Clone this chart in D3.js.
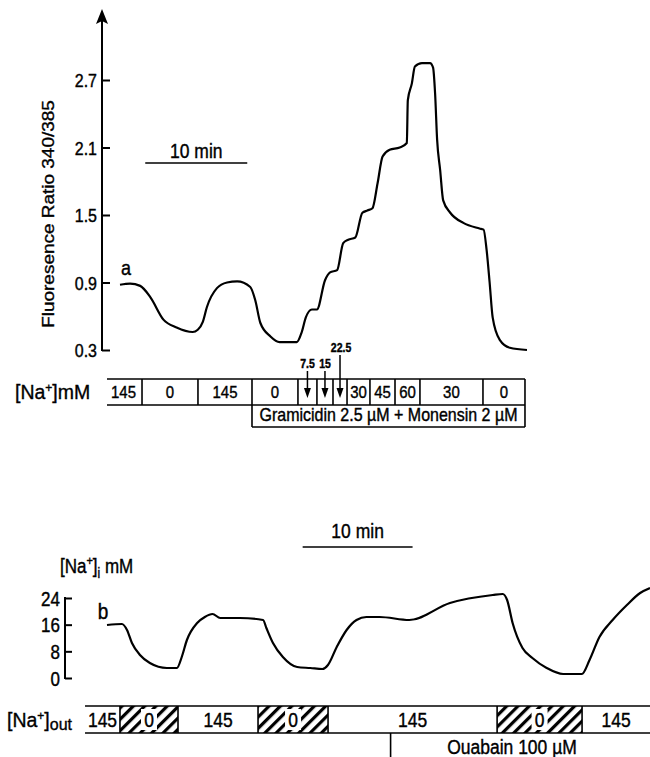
<!DOCTYPE html>
<html><head><meta charset="utf-8">
<script src="https://cdn.jsdelivr.net/npm/d3@7"></script>
<style>html,body{margin:0;padding:0;background:#fff}svg{display:block}text{font-family:"Liberation Sans",Arial,Helvetica,sans-serif;fill:#000;stroke:#000;stroke-width:0.35px}</style>
</head><body><div id="chart"></div>
<script>
// ---------- DATA ----------
// Panel a: time (min) vs fluorescence ratio 340/385
const topTime  = [0,1.0,2.0,3.0,4.3,5.6,7.2,7.7,8.2,8.6,9.6,10.6,11.6,12.9,13.4,13.9,14.9,15.8,17.5,18.0,18.4,19.0,19.5,20.3,20.8,21.5,22.1,22.6,23.3,24.0,24.5,25.0,25.5,26.0,26.7,27.7,28.4,28.5,28.9,29.2,29.9,30.7,31.0,31.2,31.4,31.7,32.0,32.7,34.0,35.6,36.0,36.3,36.6,36.9,37.6,38.6,40.3];
const topRatio = [0.88,0.89,0.87,0.77,0.57,0.50,0.46,0.48,0.55,0.68,0.85,0.90,0.91,0.86,0.74,0.54,0.42,0.37,0.37,0.46,0.59,0.66,0.66,0.92,0.99,1.01,1.25,1.28,1.30,1.52,1.54,1.56,1.78,2.02,2.08,2.10,2.14,2.52,2.67,2.82,2.85,2.85,2.81,2.58,2.17,1.90,1.63,1.52,1.43,1.38,1.37,1.19,0.90,0.59,0.39,0.32,0.30];
const topYTicks = [0.3,0.9,1.5,2.1,2.7];
const topBoxEdges  = [-1.29,2.18,7.72,13.07,17.62,19.50,21.09,22.48,24.75,27.23,29.70,35.94,40.10];
const topBoxLabels = ["145","0","145","0","","","","30","45","60","30","0"];
const stepConc = ["7.5","15","22.5"];          // arrows in boxes 4,5,6
const drugText = "Gramicidin 2.5 \u00b5M + Monensin 2 \u00b5M";
const drugStart = 13.07, drugEnd = 40.10;

// Panel b: time (min) vs [Na+]i (mM)
const botTime = [0,1.36,1.82,2.27,3.0,3.9,5.45,6.36,6.8,7.27,8.2,8.9,9.6,10.3,12.1,14.2,14.5,15.1,16.0,17.3,18.5,19.6,20.1,20.9,21.8,22.7,23.6,24.8,27.5,31.2,35.1,36.0,36.4,36.9,37.8,38.7,40.0,41.5,43.2,43.9,44.8,46.0,47.3,48.5,49.4];
const botNa   = [15.9,16.2,14.4,10.5,6.9,4.5,3.0,3.0,6.3,11.4,16.5,18.3,19.2,18.0,18.0,17.4,15.0,10.5,6.3,3.3,3.0,2.7,3.9,9.3,14.4,17.4,18.3,18.3,17.4,22.5,24.9,25.2,23.4,16.5,9.0,6.0,3.0,1.2,1.2,5.4,12.3,17.4,21.9,25.5,27.0];
const botYTicks = [0,8,16,24];
const botBoxEdges  = [-2.0,1.18,6.46,13.74,20.11,35.49,43.22,49.4];
const botBoxLabels = ["145","0","145","0","145","0","145"];
const botHatched   = [false,true,false,true,false,true,false];
const ouabainStart = 25.8, ouabainText = "Ouabain 100 \u00b5M";

// ---------- LAYOUT ----------
const W = 650, H = 757, SY = 1.15;
const svg = d3.select("#chart").append("svg").attr("width", W).attr("height", H);

function txt(sel, x, y, s, size, anchor, weight, sy) {
  return sel.append("text")
    .attr("transform", `translate(${x},${y}) scale(1,${sy || SY})`)
    .attr("text-anchor", anchor || "middle")
    .attr("font-size", size)
    .attr("font-weight", weight || "normal")
    .text(s);
}

// hatch pattern
const defs = svg.append("defs");
defs.append("pattern").attr("id","hatch").attr("patternUnits","userSpaceOnUse")
  .attr("width",8).attr("height",8).attr("patternTransform","rotate(45)")
  .append("rect").attr("x",0).attr("y",0).attr("width",3.2).attr("height",8).attr("fill","#000");

// ===== Panel a =====
const xA = d3.scaleLinear().domain([0, 40.3]).range([120, 527]);
const yA = d3.scaleLinear().domain([0.3, 2.7]).range([350, 80]);
const gA = svg.append("g");

const axA = gA.append("g").attr("transform", "translate(102,0)")
  .call(d3.axisLeft(yA).tickValues(topYTicks).tickFormat(d3.format(".1f")).tickSizeInner(-8).tickSizeOuter(0).tickPadding(5));
axA.select(".domain").remove();
axA.selectAll(".tick line").attr("stroke","#000").attr("stroke-width",2);
axA.selectAll(".tick text").attr("font-size",16).attr("font-family",'"Liberation Sans",Arial,sans-serif')
  .attr("transform",`scale(1,${SY})`).attr("dy","0.36em");
gA.append("line").attr("x1",102).attr("x2",102).attr("y1",yA(0.3)+1).attr("y2",20).attr("stroke","#000").attr("stroke-width",2);
gA.append("path").attr("d","M102,9 L96,24 L102,21 L108,24 Z").attr("fill","#000");

gA.append("text")
  .attr("transform",`translate(54,${214}) scale(1,${SY}) rotate(-90)`)
  .attr("text-anchor","middle").attr("font-size",16.5).text("Fluoresence Ratio 340/385");

txt(gA, 126, 275, "a", 18);

// 10 min bar
gA.append("line").attr("x1",xA(2.5)).attr("x2",xA(12.6)).attr("y1",163).attr("y2",163).attr("stroke","#000").attr("stroke-width",1.6);
txt(gA, (xA(2.5)+xA(12.6))/2, 158, "10 min", 17.5);

gA.append("path").datum(topTime.map((t,i)=>[t, topRatio[i]]))
  .attr("fill","none").attr("stroke","#000").attr("stroke-width",2.2).attr("stroke-linejoin","round")
  .attr("d", d3.line().x(d=>xA(d[0])).y(d=>yA(d[1])).curve(d3.curveMonotoneX));

// Box row a
const rowTop = 379, rowBot = 405, row2Bot = 427;
const bx = gA.append("g").attr("stroke","#000").attr("stroke-width",1.6);
const x0 = xA(topBoxEdges[0]), xN = xA(topBoxEdges[topBoxEdges.length-1]);
bx.append("line").attr("x1",x0).attr("x2",xN).attr("y1",rowTop).attr("y2",rowTop);
bx.append("line").attr("x1",x0).attr("x2",xN).attr("y1",rowBot).attr("y2",rowBot);
topBoxEdges.slice(1).forEach(e => bx.append("line").attr("x1",xA(e)).attr("x2",xA(e)).attr("y1",rowTop).attr("y2",rowBot));
bx.append("line").attr("x1",xA(drugStart)).attr("x2",xA(drugEnd)).attr("y1",row2Bot).attr("y2",row2Bot);
bx.append("line").attr("x1",xA(drugStart)).attr("x2",xA(drugStart)).attr("y1",rowBot).attr("y2",row2Bot);
bx.append("line").attr("x1",xA(drugEnd)).attr("x2",xA(drugEnd)).attr("y1",rowBot).attr("y2",row2Bot);
topBoxLabels.forEach((l,i) => {
  if (l) txt(gA, (xA(topBoxEdges[i])+xA(topBoxEdges[i+1]))/2 + (i===0?-1:0), 398, l, 15);
});
stepConc.forEach((c,k) => {
  const i = 4 + k;
  const cx = (xA(topBoxEdges[i])+xA(topBoxEdges[i+1]))/2;
  const top = k===2 ? 355 : 371;
  gA.append("line").attr("x1",cx).attr("x2",cx).attr("y1",top).attr("y2",392).attr("stroke","#000").attr("stroke-width",1.5);
  gA.append("path").attr("d",`M${cx-3.5},388 L${cx+3.5},388 L${cx},398 Z`).attr("fill","#000");
  txt(gA, cx + (k===2?1:0), k===2 ? 352 : 368, c, 10.5, "middle", "bold");
});
txt(gA, (xA(drugStart)+xA(drugEnd))/2, 421, drugText, 16);

const naA = gA.append("text").attr("transform",`translate(15,399) scale(1,1.05)`).attr("font-size",19.5);
naA.append("tspan").text("[Na");
naA.append("tspan").attr("font-size",12).attr("dy",-7).text("+");
naA.append("tspan").attr("dy",7).text("]mM");

// ===== Panel b =====
const xB = d3.scaleLinear().domain([0, 49.4]).range([107, 650]);
const yB = d3.scaleLinear().domain([0, 24]).range([678, 598]);
const gB = svg.append("g");
const axB = gB.append("g").attr("transform","translate(65,0)")
  .call(d3.axisLeft(yB).tickValues(botYTicks).tickSizeInner(-7).tickSizeOuter(0).tickPadding(5));
axB.select(".domain").remove();
axB.selectAll(".tick line").attr("stroke","#000").attr("stroke-width",2);
axB.selectAll(".tick text").attr("font-size",17).attr("font-family",'"Liberation Sans",Arial,sans-serif')
  .attr("transform",`scale(1,${SY})`).attr("dy","0.36em");
gB.append("line").attr("x1",65).attr("x2",65).attr("y1",yB(0)+1).attr("y2",yB(24)-1).attr("stroke","#000").attr("stroke-width",2);

txt(gB, 103, 619, "b", 19);

const naB = gB.append("text").attr("transform",`translate(60,573) scale(1,${SY})`).attr("font-size",17);
naB.append("tspan").text("[Na");
naB.append("tspan").attr("font-size",11).attr("dy",-7).text("+");
naB.append("tspan").attr("dy",7).text("]");
naB.append("tspan").attr("font-size",12).attr("dy",4).text("i");
naB.append("tspan").attr("dy",-4).text(" mM");

gB.append("line").attr("x1",xB(17.8)).attr("x2",xB(27.8)).attr("y1",547).attr("y2",547).attr("stroke","#000").attr("stroke-width",1.6);
txt(gB, (xB(17.8)+xB(27.8))/2, 538, "10 min", 17.5);

gB.append("path").datum(botTime.map((t,i)=>[t, botNa[i]]))
  .attr("fill","none").attr("stroke","#000").attr("stroke-width",2.2).attr("stroke-linejoin","round")
  .attr("d", d3.line().x(d=>xB(d[0])).y(d=>yB(d[1])).curve(d3.curveMonotoneX));

// Box row b
const bTop = 706, bBot = 733;
botBoxLabels.forEach((l,i) => {
  const xa = xB(botBoxEdges[i]), xb = xB(botBoxEdges[i+1]);
  if (botHatched[i]) {
    gB.append("rect").attr("x",xa).attr("y",bTop).attr("width",xb-xa).attr("height",bBot-bTop).attr("fill","url(#hatch)");
    gB.append("rect").attr("x",(xa+xb)/2-8).attr("y",bTop+3).attr("width",16).attr("height",bBot-bTop-6).attr("fill","#fff");
  }
  txt(gB, (xa+xb)/2, 727, l, 17.5);
});
const bb = gB.append("g").attr("stroke","#000").attr("stroke-width",1.6);
const bx0 = xB(botBoxEdges[0]), bxN = xB(botBoxEdges[botBoxEdges.length-1]);
bb.append("line").attr("x1",bx0).attr("x2",bxN).attr("y1",bTop).attr("y2",bTop);
bb.append("line").attr("x1",bx0).attr("x2",bxN).attr("y1",bBot).attr("y2",bBot);
botBoxEdges.slice(1,-1).forEach(e => bb.append("line").attr("x1",xB(e)).attr("x2",xB(e)).attr("y1",bTop).attr("y2",bBot));
bb.append("line").attr("x1",xB(ouabainStart)).attr("x2",xB(ouabainStart)).attr("y1",bBot).attr("y2",H);
txt(gB, 512, 754, ouabainText, 17.5);

const naO = gB.append("text").attr("transform",`translate(7,727) scale(1,1.05)`).attr("font-size",19.5);
naO.append("tspan").text("[Na");
naO.append("tspan").attr("font-size",12).attr("dy",-7).text("+");
naO.append("tspan").attr("dy",7).text("]");
naO.append("tspan").attr("font-size",16).attr("dy",3).text("out");
</script></body></html>
